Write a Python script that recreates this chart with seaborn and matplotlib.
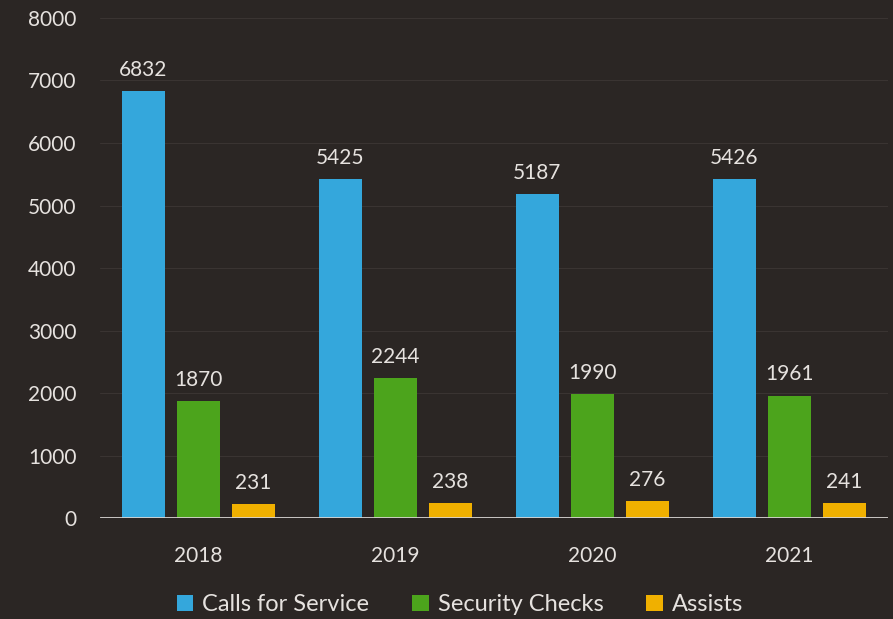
import pandas as pd
import seaborn as sns
import matplotlib.pyplot as plt

years = ['2018', '2019', '2020', '2021']
calls_for_service = [6832, 5425, 5187, 5426]
security_checks = [1870, 2244, 1990, 1961]
assists = [231, 238, 276, 241]
series_names = ['Calls for Service', 'Security Checks', 'Assists']
yticks = [0, 1000, 2000, 3000, 4000, 5000, 6000, 7000, 8000]

bg = '#2b2624'
txt = '#e6e2df'
palette = ['#34a7dc', '#4ca41c', '#f0b000']

df = pd.DataFrame({
    'year': years * 3,
    'value': calls_for_service + security_checks + assists,
    'series': [s for s in series_names for _ in years],
})

sns.set_theme(style='dark')
plt.rcParams['font.family'] = ['Lato', 'DejaVu Sans']

fig = plt.figure(figsize=(8.93, 6.19), dpi=100, facecolor=bg)
ax = fig.add_axes([0.112, 0.163, 0.882, 0.808])
ax.set_facecolor(bg)

sns.barplot(data=df, x='year', y='value', hue='series', hue_order=series_names,
            palette=palette, width=0.837, gap=0.22, saturation=1, ax=ax,
            edgecolor='none', legend=True)

for c in ax.containers:
    ax.bar_label(c, labels=[f'{int(v)}' for v in c.datavalues], padding=8,
                 color=txt, fontsize=15)

ax.set_ylim(0, 8000)
ax.set_xlim(-0.5, 3.5)
ax.set_yticks(yticks)
ax.set_yticklabels([str(t) for t in yticks])
ax.yaxis.grid(True, color='#3a3432', linewidth=0.8)
ax.set_axisbelow(True)
for s in ax.spines.values():
    s.set_visible(False)
ax.axhline(0, color='#d8d4d2', linewidth=2, zorder=5)
ax.tick_params(axis='y', colors=txt, labelsize=15, length=0, pad=17)
ax.tick_params(axis='x', colors=txt, labelsize=15, length=0, pad=20)
ax.set_xlabel('')
ax.set_ylabel('')

leg = ax.legend(loc='upper center', bbox_to_anchor=(0.457, -0.11), ncol=3,
                frameon=False, fontsize=17, handlelength=0.7, handleheight=0.7,
                handletextpad=0.4, columnspacing=1.8)
for t in leg.get_texts():
    t.set_color(txt)

fig.savefig('out.png', dpi=100, facecolor=bg)
